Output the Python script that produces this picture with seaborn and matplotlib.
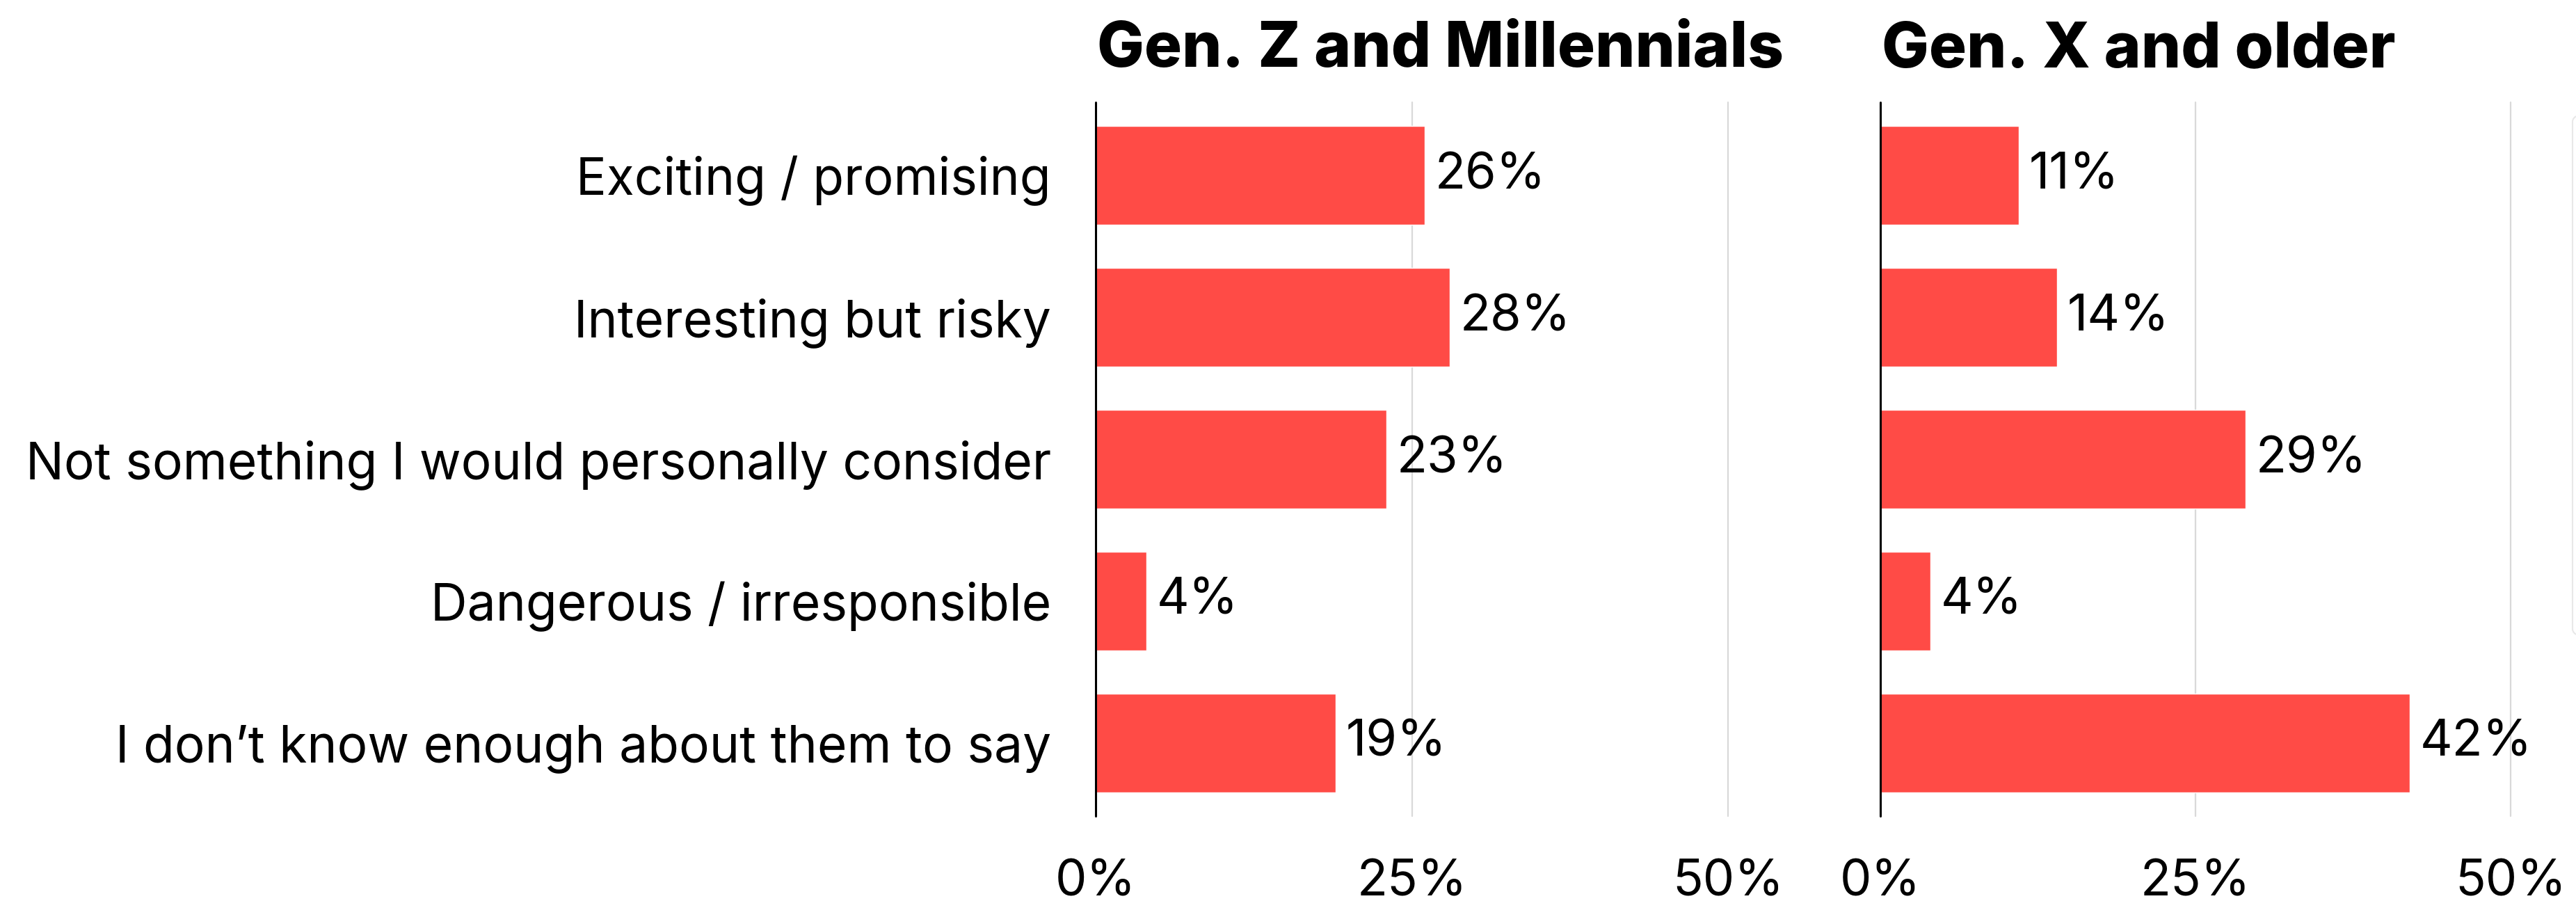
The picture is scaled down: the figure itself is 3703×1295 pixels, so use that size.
import matplotlib
matplotlib.use("Agg")
import matplotlib.pyplot as plt
from matplotlib.patches import FancyBboxPatch
from matplotlib.transforms import blended_transform_factory
import seaborn as sns
import pandas as pd

# Survey answers and the share of each generation group choosing them
responses = [
    "Exciting / promising",
    "Interesting but risky",
    "Not something I would personally consider",
    "Dangerous / irresponsible",
    "I don\u2019t know enough about them to say",
]
gen_z_millennials = [26, 28, 23, 4, 19]
gen_x_older = [11, 14, 29, 4, 42]
panel_titles = ["Gen. Z and Millennials", "Gen. X and older"]
x_ticks = [0, 25, 50]
x_tick_labels = ["0%", "25%", "50%"]

BAR_COLOR = "#FF4B46"
GRID_COLOR = "#D9D9D9"
FONT = ["Inter", "DejaVu Sans"]

sns.set_theme(style="white")
plt.rcParams["font.family"] = FONT

W, H = 3703, 1295
DPI = 100
fig = plt.figure(figsize=(W / DPI, H / DPI), dpi=DPI)


def px_axes(x0, x1, top, bottom):
    return fig.add_axes([x0 / W, (H - bottom) / H, (x1 - x0) / W, (bottom - top) / H])


ax_left = px_axes(1575, 2484, 147, 1173)
ax_right = px_axes(2703, 3609, 147, 1173)

panels = [(ax_left, gen_z_millennials, True), (ax_right, gen_x_older, False)]
for (ax, values, show_labels), title in zip(panels, panel_titles):
    df = pd.DataFrame({"response": responses, "share": values})
    sns.barplot(data=df, x="share", y="response", orient="h", color=BAR_COLOR,
                saturation=1, width=0.70, ax=ax)
    ax.set_xlim(0, 50)
    ax.set_ylim(len(responses) - 0.485, -0.515)
    for s in ax.spines.values():
        s.set_visible(False)
    # light guides at 25% and 50%, solid zero line
    for t in x_ticks[1:]:
        ax.axvline(t, color=GRID_COLOR, lw=1.6, zorder=0, clip_on=False)
    ax.axvline(0, color="black", lw=2.2, zorder=3, clip_on=False)
    ax.set_xticks(x_ticks)
    ax.set_xticklabels(x_tick_labels, fontsize=52, color="black")
    ax.tick_params(axis="x", length=0, pad=44)
    ax.set_xlabel("")
    ax.set_ylabel("")
    if show_labels:
        ax.tick_params(axis="y", length=0, pad=46, labelsize=52.6, labelcolor="black")
    else:
        ax.set_yticklabels([])
        ax.tick_params(axis="y", length=0)
    for i, v in enumerate(values):
        ax.text(v + 0.8, i, f"{v}%", va="center", ha="left", fontsize=52, color="black")
    # panel heading, left aligned with the zero line
    heading_tr = blended_transform_factory(ax.transData, fig.transFigure)
    ax.text(0.1, (H - 96) / H, title, transform=heading_tr,
            fontsize=65, fontweight=800, ha="left", va="baseline", color="black")

# faint rounded frame peeking in at the right edge
frame = FancyBboxPatch((3698 / W, (H - 917) / H), 80 / W, (917 - 162) / H,
                       boxstyle="round,pad=0,rounding_size=0.01",
                       transform=fig.transFigure, facecolor="white",
                       edgecolor="#E8E8E8", lw=1.5, clip_on=False)
fig.patches.append(frame)

fig.savefig("out.png", dpi=DPI, facecolor="white")
